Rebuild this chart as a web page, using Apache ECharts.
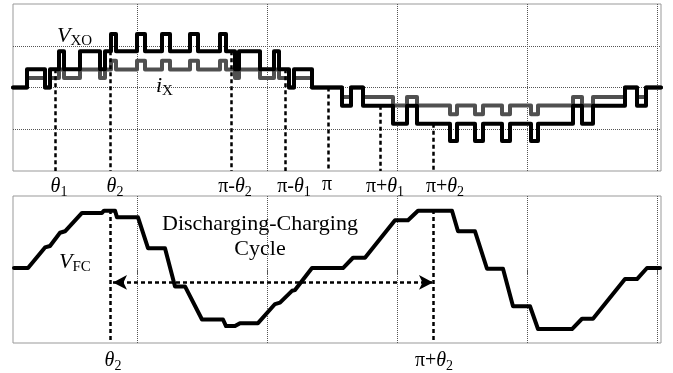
<!DOCTYPE html>
<html><head><meta charset="utf-8">
<script src="https://cdn.jsdelivr.net/npm/echarts@6/dist/echarts.min.js"></script>
<style>html,body{margin:0;padding:0;background:#fff}#c{width:673px;height:373px}</style>
</head><body><div id="c"></div>
<script>
// phase axis in arbitrary units: 0 = left edge of the plots, pi = 315
// switching instants shared by V_XO and i_X
const edgeX = [0, 14, 32, 37, 46, 51, 67, 87, 92, 98, 103, 124, 132, 149, 157, 177, 185, 207, 213, 222, 226, 247, 261, 266, 276, 281, 299,
  329, 338, 350, 380, 394, 404, 437, 444, 462, 470, 489, 497, 518, 525, 560, 569, 580, 612, 624, 633, 648];
const vxoLevels = [0, 0.44, 0, 0.44, 0.87, 0.44, 0.87, 0.44, 0.87, 1.28, 0.87, 1.28, 0.87, 1.28, 0.87, 1.28, 0.87, 1.28, 0.87, 0.44, 0.87, 0.44, 0.87, 0.44, 0, 0.44, 0,
  -0.44, 0, -0.44, -0.87, -0.44, -0.87, -1.28, -0.87, -1.28, -0.87, -1.28, -0.87, -1.28, -0.87, -0.44, -0.87, -0.44, 0, -0.44, 0, 0];
const ixLevels = [0, 0.23, 0, 0.23, 0.43, 0.23, 0.43, 0.23, 0.43, 0.64, 0.43, 0.64, 0.43, 0.64, 0.43, 0.64, 0.43, 0.64, 0.43, 0.23, 0.43, 0.23, 0.43, 0.23, 0, 0.23, 0,
  -0.23, 0, -0.23, -0.43, -0.23, -0.43, -0.64, -0.43, -0.64, -0.43, -0.64, -0.43, -0.64, -0.43, -0.23, -0.43, -0.23, 0, -0.23, 0, 0];
// flying capacitor voltage
const vfcX = [1, 15, 32, 37, 47, 52, 69, 89, 91, 102, 104, 125, 135, 152, 162, 172, 189, 210, 213, 222, 227, 245, 262, 267, 279, 282, 299,
  330, 340, 352, 382, 395, 405, 439, 445, 462, 474, 490, 500, 517, 525, 559, 569, 580, 612, 624, 634, 647];
const vfcY = [0.02, 0.02, 0.30, 0.32, 0.50, 0.52, 0.77, 0.77, 0.80, 0.80, 0.71, 0.71, 0.29, 0.29, -0.23, -0.23, -0.68, -0.68, -0.77, -0.77, -0.73, -0.73, -0.47, -0.45, -0.29, -0.28, 0.02,
  0.02, 0.16, 0.16, 0.67, 0.67, 0.80, 0.80, 0.52, 0.52, 0.01, 0.01, -0.50, -0.50, -0.81, -0.81, -0.67, -0.67, -0.13, -0.13, 0.02, 0.02];
const gridX = [124, 254, 384, 514, 644];
const topTickX = [46, 102, 222, 281, 314, 372, 432];
const topTickLabels = [['', '1'], ['', '2'], ['π-', '2'], ['π-', '1'], ['π', ''], ['π+', '1'], ['π+', '2']];
const thetaLineX = [42, 97, 218, 272, 315, 367, 420];
const thetaLineTop = [0.44, 0.87, 0.87, 0.44, 0, -0.44, -0.87];
const bottomTickX = [100, 421];
const bottomTickLabels = [['', '2'], ['π+', '2']];
const vfcLineX = [97, 420];
const vfcLineTop = [0.81, 0.81];
const cycleFrom = 100, cycleTo = 420, cycleLevel = -0.176;

const SERIF = 'Liberation Serif';
const rich = {
  p: {fontFamily: SERIF, fontSize: 20, color: '#000'},
  t: {fontFamily: SERIF, fontSize: 20, fontStyle: 'italic', color: '#000'},
  s: {fontFamily: SERIF, fontSize: 14, color: '#000', padding: [10, 0, 0, 0]}
};
function tickFmt(xs, labels) {
  return function (v) {
    let k = 0;
    xs.forEach((x, i) => { if (Math.abs(x - v) < Math.abs(xs[k] - v)) k = i; });
    const [pre, sub] = labels[k];
    if (pre === 'π') return '{p|π}';
    return (pre ? '{p|' + pre + '}' : '') + '{t|θ}{s|' + sub + '}';
  };
}
const steps = (levels) => edgeX.map((x, i) => [x, levels[i]]);
const dashed = {color: '#000', width: 2.5, type: [4, 3]};

const chart = echarts.init(document.getElementById('c'));
chart.setOption({
  animation: false,
  grid: [
    {left: 13, top: 4, width: 648, height: 167, show: true, borderColor: '#999', borderWidth: 1},
    {left: 13, top: 196, width: 648, height: 148, show: true, borderColor: '#999', borderWidth: 1}
  ],
  xAxis: [
    {gridIndex: 0, type: 'value', min: 0, max: 648,
      axisLine: {show: false}, axisTick: {show: false, customValues: gridX},
      splitLine: {show: true, lineStyle: {type: 'dotted', color: '#555', width: 1}},
      axisLabel: {customValues: topTickX, formatter: tickFmt(topTickX, topTickLabels), rich: rich, margin: 4}},
    {gridIndex: 1, type: 'value', min: 0, max: 648,
      axisLine: {show: false}, axisTick: {show: true, customValues: gridX, length: 5, lineStyle: {color: '#555'}},
      splitLine: {show: true, lineStyle: {type: 'dotted', color: '#555', width: 1}},
      axisLabel: {customValues: bottomTickX, formatter: tickFmt(bottomTickX, bottomTickLabels), rich: rich, margin: 6}}
  ],
  yAxis: [
    {gridIndex: 0, type: 'value', min: -2, max: 2, interval: 1,
      axisLine: {show: false}, axisTick: {show: false}, axisLabel: {show: false},
      splitLine: {show: true, showMinLine: false, showMaxLine: false, lineStyle: {type: 'dotted', color: '#555', width: 1}}},
    {gridIndex: 1, type: 'value', min: -1, max: 1,
      axisLine: {show: false}, axisTick: {show: false}, axisLabel: {show: false}, splitLine: {show: false}}
  ],
  series: [
    {name: 'iX', type: 'line', xAxisIndex: 0, yAxisIndex: 0, step: 'end', symbol: 'none', z: 2,
      lineStyle: {color: '#505050', width: 4, cap: 'round', join: 'round'}, data: steps(ixLevels)},
    {name: 'VXO', type: 'line', xAxisIndex: 0, yAxisIndex: 0, step: 'end', symbol: 'none', z: 3,
      lineStyle: {color: '#000', width: 4, cap: 'round', join: 'round'}, data: steps(vxoLevels),
      markLine: {silent: true, symbol: 'none', label: {show: false}, lineStyle: dashed,
        data: thetaLineX.map((x, i) => [{coord: [x, thetaLineTop[i]]}, {coord: [x, -2]}])}},
    {name: 'VFC', type: 'line', xAxisIndex: 1, yAxisIndex: 1, symbol: 'none', z: 3,
      lineStyle: {color: '#000', width: 4, cap: 'round', join: 'round'}, data: vfcX.map((x, i) => [x, vfcY[i]]),
      markLine: {silent: true, symbol: 'none', label: {show: false}, lineStyle: dashed,
        data: vfcLineX.map((x, i) => [{coord: [x, vfcLineTop[i]]}, {coord: [x, -1]}]).concat([
          [{coord: [cycleFrom, cycleLevel], symbol: 'arrow', symbolSize: [11, 14]},
           {coord: [cycleTo, cycleLevel], symbol: 'arrow', symbolSize: [11, 14]}]
        ])}}
  ],
  graphic: [
    {type: 'text', x: 57, y: 36, style: {text: '{v|V}{s|XO}', textVerticalAlign: 'middle', rich: {
      v: {fontFamily: SERIF, fontSize: 22, fontStyle: 'italic', fill: '#000'},
      s: {fontFamily: SERIF, fontSize: 15, fill: '#000', padding: [10, 0, 0, 0]}}}},
    {type: 'text', x: 156, y: 86, style: {text: '{v|i}{s|X}', textVerticalAlign: 'middle', rich: {
      v: {fontFamily: SERIF, fontSize: 22, fontStyle: 'italic', fill: '#000'},
      s: {fontFamily: SERIF, fontSize: 15, fill: '#000', padding: [10, 0, 0, 0]}}}},
    {type: 'text', x: 59, y: 262, style: {text: '{v|V}{s|FC}', textVerticalAlign: 'middle', rich: {
      v: {fontFamily: SERIF, fontSize: 22, fontStyle: 'italic', fill: '#000'},
      s: {fontFamily: SERIF, fontSize: 15, fill: '#000', padding: [10, 0, 0, 0]}}}},
    {type: 'text', x: 260, y: 237, style: {text: 'Discharging-Charging\nCycle', textAlign: 'center', textVerticalAlign: 'middle',
      fontFamily: SERIF, fontSize: 22, lineHeight: 25, fill: '#000'}}
  ]
});
</script></body></html>
